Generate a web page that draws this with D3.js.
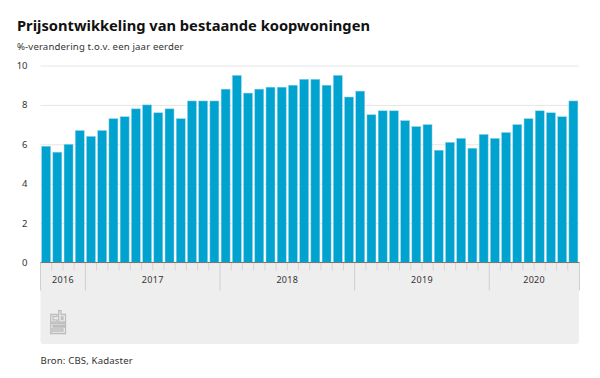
<!DOCTYPE html>
<html>
<head>
<meta charset="utf-8">
<script src="https://d3js.org/d3.v7.min.js"></script>
<style>
    html, body { margin: 0; padding: 0; background: #fff; }
    svg { display: block; }
    text { font-family: "Noto Sans", sans-serif; fill: #333; }
    .title { font-size: 14.7px; font-weight: 700; fill: #111; }
    .sub { font-size: 9.6px; letter-spacing: 0.15px; }
    .y-axis text { font-size: 9.5px; fill: #333; }
    .y-axis path { display: none; }
    .y-axis line { stroke: #e6e6e6; stroke-width: 1; }
    .year { font-size: 9px; letter-spacing: 0.3px; }
</style>
</head>
<body>
<div id="chart"></div>
<script>
// maanden, sep 2016 t/m aug 2020
let months = [
    "2016-09","2016-10","2016-11","2016-12",
    "2017-01","2017-02","2017-03","2017-04","2017-05","2017-06","2017-07","2017-08","2017-09","2017-10","2017-11","2017-12",
    "2018-01","2018-02","2018-03","2018-04","2018-05","2018-06","2018-07","2018-08","2018-09","2018-10","2018-11","2018-12",
    "2019-01","2019-02","2019-03","2019-04","2019-05","2019-06","2019-07","2019-08","2019-09","2019-10","2019-11","2019-12",
    "2020-01","2020-02","2020-03","2020-04","2020-05","2020-06","2020-07","2020-08"
];
let values = [
    5.9, 5.6, 6.0, 6.7,
    6.4, 6.7, 7.3, 7.4, 7.8, 8.0, 7.6, 7.8, 7.3, 8.2, 8.2, 8.2,
    8.8, 9.5, 8.6, 8.8, 8.9, 8.9, 9.0, 9.3, 9.3, 9.0, 9.5, 8.4,
    8.7, 7.5, 7.7, 7.7, 7.2, 6.9, 7.0, 5.7, 6.1, 6.3, 5.8, 6.5,
    6.3, 6.6, 7.0, 7.3, 7.7, 7.6, 7.4, 8.2
];
let years = ["2016", "2017", "2018", "2019", "2020"];
let yTicks = [0, 2, 4, 6, 8, 10];

let width = 600, height = 378;
let margin = {top: 65.5, right: 21, bottom: 115.5, left: 40.5};

let svg = d3.select("#chart").append("svg")
    .attr("width", width)
    .attr("height", height);

svg.append("text").attr("class", "title").attr("x", 17).attr("y", 31)
    .text("Prijsontwikkeling van bestaande koopwoningen");
svg.append("text").attr("class", "sub").attr("x", 17).attr("y", 50)
    .text("%-verandering t.o.v. een jaar eerder");

let x = d3.scaleBand().domain(months)
    .range([margin.left, width - margin.right])
    .paddingInner(0.2).paddingOuter(0.1);
let y = d3.scaleLinear().domain([0, 10])
    .range([height - margin.bottom, margin.top]);

let axisY = height - margin.bottom;
let step = x.step();
// grens links van een maand
let edge = m => x(m) - (step - x.bandwidth()) / 2;

// grijs vlak onder de as
svg.append("path")
    .attr("fill", "#eeeeee")
    .attr("d", () => {
        let l = margin.left, r = width - margin.right, b = 344, t = axisY, c = 3;
        return `M${l},${t}H${r}V${b - c}Q${r},${b} ${r - c},${b}H${l + c}Q${l},${b} ${l},${b - c}Z`;
    });

// gridlijnen + labels
svg.append("g")
    .attr("class", "y-axis")
    .attr("transform", `translate(${margin.left},0)`)
    .call(d3.axisLeft(y).tickValues(yTicks).tickSize(-(width - margin.right - margin.left)).tickPadding(13).tickFormat(d3.format("d")));

// staven
svg.append("g").selectAll("rect")
    .data(values)
    .enter()
    .append("rect")
    .attr("x", (d, i) => x(months[i]))
    .attr("y", d => y(d))
    .attr("width", x.bandwidth())
    .attr("height", d => axisY - y(d))
    .attr("fill", "#00a2cf")
    .attr("stroke", "#8fd3e8")
    .attr("stroke-width", 0.5);

// maandticks
let ticks = svg.append("g");
months.forEach(m => {
    let isYear = m.endsWith("-01");
    ticks.append("line")
        .attr("x1", edge(m)).attr("x2", edge(m))
        .attr("y1", axisY)
        .attr("y2", isYear || m === months[0] ? axisY + 28 : axisY + 8)
        .attr("stroke", isYear || m === months[0] ? "#cfcfcf" : "#d6d6d6")
        .attr("stroke-width", 1);
});
ticks.append("line")
    .attr("x1", width - margin.right + 0.5).attr("x2", width - margin.right + 0.5)
    .attr("y1", axisY).attr("y2", axisY + 28)
    .attr("stroke", "#cfcfcf");

// jaarlabels
years.forEach(yr => {
    let inYear = months.filter(m => m.startsWith(yr));
    let x0 = edge(inYear[0]);
    let x1 = edge(inYear[inYear.length - 1]) + step;
    svg.append("text").attr("class", "year")
        .attr("x", (x0 + x1) / 2).attr("y", axisY + 20.5)
        .attr("text-anchor", "middle")
        .text(yr);
});

// nullijn
svg.append("line")
    .attr("x1", margin.left).attr("x2", width - margin.right + 0.5)
    .attr("y1", axisY).attr("y2", axisY)
    .attr("stroke", "#777").attr("stroke-width", 1.2);

// cbs logo
let logo = svg.append("g")
    .attr("transform", "translate(50,310)")
    .attr("fill", "none")
    .attr("stroke", "#bdbdbd")
    .attr("stroke-width", 1.3);
logo.append("path").attr("d", "M7,4.5H0.7V12H7V9.8H3V6.7H7Z");
logo.append("path").attr("d", "M8.7,0.7H11V4.5H15.5V12H8.7ZM11.3,7H13V9.5H11.3Z");
logo.append("path").attr("d", "M15.5,13.5H0.7V19H13V21H0.7V23.5H15.5V17H3V15.5H15.5Z");

svg.append("text").attr("class", "sub").attr("x", 40.5).attr("y", 364)
    .text("Bron: CBS, Kadaster");
</script>
</body>
</html>
